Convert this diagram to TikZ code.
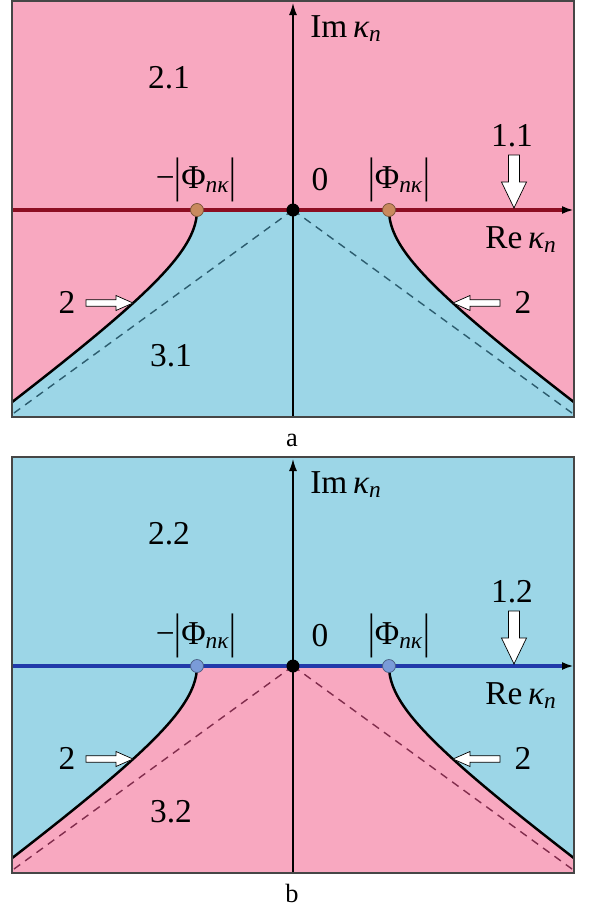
\documentclass[tikz,border=0pt]{standalone}
\usepackage{fontspec}
\setmainfont{Liberation Serif}
\usepackage{graphicx}
\usepackage{tikz}
\usetikzlibrary{arrows.meta,calc}
\definecolor{regionpink}{RGB}{248,168,192}
\definecolor{regionblue}{RGB}{156,214,231}
\definecolor{axisred}{RGB}{140,14,34}
\definecolor{axisblue}{RGB}{34,58,170}
\definecolor{pointtan}{RGB}{201,138,94}
\definecolor{pointblue}{RGB}{122,155,216}
\definecolor{dashteal}{RGB}{44,92,110}
\definecolor{dashwine}{RGB}{128,44,76}
\definecolor{framegray}{RGB}{70,70,70}
\tikzset{
  panelframe/.style={draw=framegray,line width=0.8pt},
  realaxis/.style={line width=2.3pt,-{Latex[length=2.4mm,width=1.6mm,color=black]}},
  imagaxis/.style={line width=0.8pt,-{Latex[length=2.4mm,width=1.6mm]}},
  branchline/.style={line width=1.4pt,line join=round},
  asymptote/.style={line width=0.8pt,dash pattern=on 4.5pt off 3.5pt},
  rootdot/.style={circle,inner sep=0pt,minimum size=2.6mm,line width=0.4pt},
  hollowarrow/.style={fill=white,draw=black,line width=0.4pt,line join=miter},
  axislabel/.style={font=\fontsize{19}{22}\selectfont,inner sep=0pt},
  captionlabel/.style={font=\fontsize{15}{18}\selectfont,inner sep=0pt}
}
% tall modulus bar
\newcommand{\tallbar}{\raisebox{-0.06cm}{\scalebox{1}[1.45]{|}}}
% block arrow: tip, angle, length, shaft half width, head half width, head length
\newcommand{\blockarrow}[6]{%
  \filldraw[hollowarrow,shift={(#1)},rotate=#2]
    (0,0) -- (-#6,#5) -- (-#6,#4) -- (-#3,#4) -- (-#3,-#4)
    -- (-#6,-#4) -- (-#6,-#5) -- cycle;}
% one panel: outer fill, inner fill, axis colour, point colour, dash colour, tag, caption
\newcommand{\rootpanel}[7]{%
  \fill[#1] (-5.62,-4.14) rectangle (5.62,4.18);
  \fill[#2] (-5.62,-4.14)
    -- plot[domain=-1.7366:0,samples=60] ({-1.92*cosh(\x)},{1.397*sinh(\x)})
    -- plot[domain=0:1.7366,samples=60] ({1.92*cosh(\x)},{-1.397*sinh(\x)})
    -- (5.62,-4.14) -- cycle;
  \coordinate (o#6) at (0,0);
  \coordinate (bl#6) at (-5.58,-4.06);
  \coordinate (br#6) at (5.58,-4.06);
  \coordinate (ybot#6) at (0,-4.14);
  \coordinate (ytop#6) at (0,4.14);
  \coordinate (xl#6) at (-5.62,0);
  \coordinate (xr#6) at (5.62,0);
  \draw[asymptote,#5] (o#6) -- (bl#6);
  \draw[asymptote,#5] (o#6) -- (br#6);
  \draw[branchline] plot[domain=-1.7366:0,samples=60] ({-1.92*cosh(\x)},{1.397*sinh(\x)});
  \draw[branchline] plot[domain=0:1.7366,samples=60] ({1.92*cosh(\x)},{-1.397*sinh(\x)});
  \draw[imagaxis] (ybot#6) -- (ytop#6);
  \draw[realaxis,#3] (xl#6) -- (xr#6);
  \node[rootdot,fill=#4,draw=#4!60!black] (pl#6) at (-1.92,0) {};
  \node[rootdot,fill=#4,draw=#4!60!black] (pr#6) at (1.92,0) {};
  \node[rootdot,fill=black] (dot#6) at (o#6) {};
  \blockarrow{4.42,0.04}{-90}{1.06}{0.11}{0.25}{0.52}
  \blockarrow{-3.2,-1.86}{0}{0.94}{0.065}{0.15}{0.34}
  \blockarrow{3.2,-1.86}{180}{0.94}{0.065}{0.15}{0.34}
  \node[axislabel,anchor=base west] (im#6) at (0.34,3.46)
    {Im\,{\itshape κ}\textsubscript{\itshape n}};
  \node[axislabel,anchor=base west] (re#6) at (3.84,-0.76)
    {Re\,{\itshape κ}\textsubscript{\itshape n}};
  \node[axislabel] (mphi#6) at (-1.94,0.61)
    {−\tallbar Φ\textsubscript{\itshape nκ}\tallbar};
  \node[axislabel] (zero#6) at (0.54,0.6) {0};
  \node[axislabel] (pphi#6) at (2.12,0.61)
    {\tallbar Φ\textsubscript{\itshape nκ}\tallbar};
  \node[axislabel] (upper#6) at (-2.48,2.64) {2.#6};
  \node[axislabel] (lower#6) at (-2.44,-2.92) {3.#6};
  \node[axislabel] (line#6) at (4.38,1.48) {1.#6};
  \node[axislabel] (twol#6) at (-4.52,-1.84) {2};
  \node[axislabel] (twor#6) at (4.6,-1.84) {2};
  \draw[panelframe] (-5.62,-4.14) rectangle (5.62,4.18);
  \node[captionlabel,anchor=base] (cap#6) at (-0.02,-4.72) {#7};
}

\begin{document}
\begin{tikzpicture}[x=1cm,y=1cm]
\useasboundingbox (-5.86,4.2) rectangle (5.92,-13.92);
\rootpanel{regionpink}{regionblue}{axisred}{pointtan}{dashteal}{1}{a}
\begin{scope}[yshift=-9.12cm]
\rootpanel{regionblue}{regionpink}{axisblue}{pointblue}{dashwine}{2}{b}
\end{scope}
\end{tikzpicture}
\end{document}
